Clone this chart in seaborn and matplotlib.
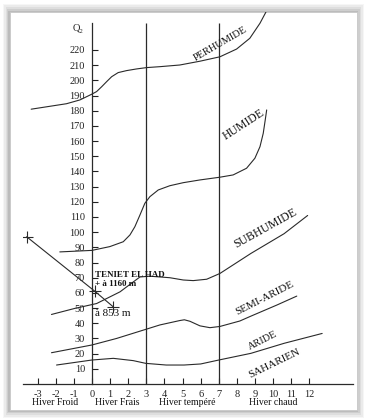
import matplotlib
matplotlib.use("Agg")
import matplotlib.pyplot as plt
import seaborn as sns
import pandas as pd
from matplotlib.patches import Rectangle

sns.set_theme(style="white")
plt.rcParams["font.family"] = ["Liberation Serif", "DejaVu Serif"]

# ---------------- data ----------------
perhumide_x = [-3.35, -1.4, -0.66, -0.02, 0.26, 0.54, 0.81, 1.09, 1.45, 1.91, 2.46, 3.02,
               3.75, 4.85, 5.96, 7.06, 7.98, 8.71, 9.27, 9.6]
perhumide_y = [181, 184.6, 187.1, 190.8, 192.6, 195.8, 199.1, 202.4, 205.1, 206.4, 207.5, 208.4,
               209.0, 210.1, 212.6, 215.5, 220.6, 227.7, 237.6, 245]

humide_x = [-1.77, 0.0, 0.99, 1.73, 2.10, 2.37, 2.65, 2.92, 3.2, 3.66, 4.3, 5.04, 5.96, 7.06,
            7.79, 8.53, 8.99, 9.27, 9.45, 9.56, 9.64]
humide_y = [87, 88, 90.5, 93.7, 98.2, 103.6, 111.3, 119, 123.4, 127.8, 130.6, 132.6, 134.4, 136.2,
            137.7, 142.1, 148.7, 156.3, 165.1, 173.9, 180.5]

subhumide_x = [-2.23, -0.94, 0.26, 1.55, 2.65, 3.2, 4.3, 5.04, 5.59, 6.33, 7.06, 8.77, 10.6, 11.9]
subhumide_y = [45.8, 49.8, 53, 60.7, 70.5, 71, 70.0, 68.5, 68.1, 69.0, 72.8, 86, 99, 111]

semiaride_x = [-2.23, 0.0, 1.36, 2.65, 3.75, 4.85, 5.1, 5.41, 5.96, 6.51, 7.06, 8.16, 8.77, 10.2, 11.3]
semiaride_y = [20.6, 25.7, 30, 34.8, 38.9, 41.8, 42.3, 41.3, 38.3, 37.1, 37.9, 41.5, 44.7, 52, 57.9]

aride_x = [-1.95, 0.0, 1.18, 2.28, 2.97, 4.1, 5.08, 6.0, 7.0, 8.77, 10.6, 12.7]
aride_y = [12.5, 15.8, 16.9, 15.4, 13.6, 12.5, 12.5, 13.2, 15.8, 20.2, 26.8, 33.3]

station_x = [-3.6, 0.17, 1.16]
station_y = [97, 61, 51]

winter_bounds = [3, 7]
x_ticks = list(range(-3, 13))
y_ticks = list(range(10, 230, 10))

zone_names = ["PERHUMIDE", "HUMIDE", "SUBHUMIDE", "SEMI-ARIDE", "ARIDE", "SAHARIEN"]
zone_label_x = [7.1, 8.35, 9.58, 9.52, 9.4, 10.08]
zone_label_y = [224, 171, 102.5, 56.4, 28.5, 13.6]
zone_label_rot = [30, 33, 29, 27, 27, 26]
zone_label_size = [7.5, 8.5, 8.5, 8, 7.5, 8]

winter_names = ["Hiver Froid", "Hiver Frais", "Hiver tempéré", "Hiver chaud"]
winter_label_x = [-2.04, 1.38, 5.25, 10.0]

# ---------------- figure ----------------
fig = plt.figure(figsize=(3.68, 4.2), dpi=100)
fig.patch.set_facecolor("white")

# soft shadow around the card
card = (0.027, 0.024, 0.943, 0.947)
for i, a in enumerate([0.05, 0.07, 0.09, 0.12, 0.16]):
    g = (5 - i) * 0.004
    fig.patches.append(Rectangle((card[0] - g, card[1] - g), card[2] + 2 * g, card[3] + 2 * g,
                                 transform=fig.transFigure, facecolor="#606060",
                                 edgecolor="none", alpha=a, zorder=-5))
fig.patches.append(Rectangle((card[0], card[1]), card[2], card[3], transform=fig.transFigure,
                             facecolor="white", edgecolor="#c8c8c8", lw=0.6, zorder=-4))

ax = fig.add_axes([0.0625, 0.0857, 0.8967, 0.8857])
ax.set_zorder(2)
ax.set_facecolor("none")
ax.set_xlim(-3.8, 14.4)
ax.set_ylim(0, 245)

lc = "#2a2a2a"
for xs, ys in [(perhumide_x, perhumide_y), (humide_x, humide_y), (subhumide_x, subhumide_y),
               (semiaride_x, semiaride_y), (aride_x, aride_y)]:
    df = pd.DataFrame({"x": xs, "y": ys})
    sns.lineplot(data=df, x="x", y="y", sort=False, estimator=None, color=lc, lw=0.8, ax=ax)

st = pd.DataFrame({"x": station_x, "y": station_y})
sns.lineplot(data=st, x="x", y="y", sort=False, estimator=None, color=lc, lw=0.8,
             marker="+", markersize=8, markeredgewidth=0.8, markeredgecolor=lc, ax=ax)

ax.vlines(winter_bounds, 0, 238, color=lc, lw=0.9)

# axes styling
for s in ["top", "right"]:
    ax.spines[s].set_visible(False)
ax.spines["left"].set_position(("data", 0))
ax.spines["left"].set_bounds(0, 237.5)
ax.spines["left"].set_color(lc)
ax.spines["left"].set_linewidth(0.9)
ax.spines["bottom"].set_color(lc)
ax.spines["bottom"].set_linewidth(0.9)

ax.set_xticks(x_ticks)
ax.set_xticklabels([str(v) for v in x_ticks])
ax.set_yticks(y_ticks)
ax.set_yticklabels([str(v) for v in y_ticks])
ax.tick_params(axis="x", direction="in", length=4, width=0.8, pad=4, labelsize=7.5,
               colors="#222222", bottom=True)
ax.tick_params(axis="y", direction="in", length=4, width=0.8, pad=5, labelsize=7.5,
               colors="#222222", left=True)
ax.set_xlabel("")
ax.set_ylabel("")

ax.text(-0.45, 234, "Q\u2082", ha="right", va="center", fontsize=7.5, color="#222222")

for name, x, y, r, fs in zip(zone_names, zone_label_x, zone_label_y, zone_label_rot, zone_label_size):
    ax.text(x, y, name, rotation=r, rotation_mode="anchor", ha="center", va="center",
            fontsize=fs, color="#111111")

ax.text(0.17, 72, "TENIET EL HAD", ha="left", va="center", fontsize=6.5,
        fontweight="bold", color="#111111")
ax.text(0.17, 66, "+ à 1160 m", ha="left", va="center", fontsize=6.5,
        fontweight="bold", color="#111111")
ax.text(0.17, 46.5, "à 853 m", ha="left", va="center", fontsize=8, color="#111111")

for name, x in zip(winter_names, winter_label_x):
    ax.text(x, -12.5, name, ha="center", va="center", fontsize=7, color="#111111")

fig.savefig("out.png", dpi=100, facecolor=fig.get_facecolor())
